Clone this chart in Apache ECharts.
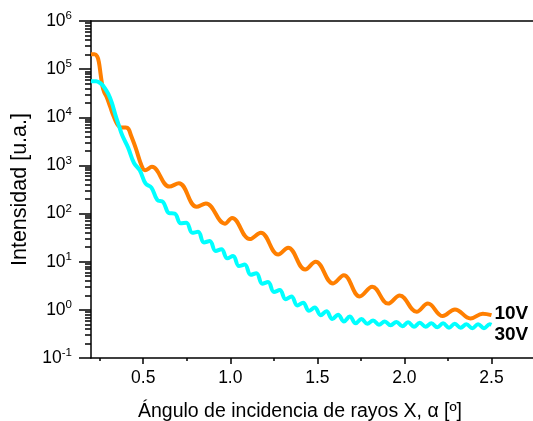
<!DOCTYPE html>
<html>
<head>
<meta charset="utf-8">
<script src="https://cdn.jsdelivr.net/npm/echarts@6/dist/echarts.min.js"></script>
<style>
  html, body { margin: 0; padding: 0; background: #fff; }
  #chart { width: 533px; height: 421px; }
</style>
</head>
<body>
<div id="chart"></div>
<script>
// angle (deg) and log10(intensity)
var angle10V = [0.20, 0.22, 0.235, 0.245, 0.255, 0.265, 0.275,
    0.29, 0.31, 0.33, 0.35, 0.365, 0.38, 0.40,
    0.415, 0.43, 0.457, 0.49, 0.51,
    0.55, 0.65, 0.705, 0.806, 0.86,
    0.969, 1.01, 1.112, 1.175, 1.275,
    1.332, 1.43, 1.49, 1.59, 1.652,
    1.743, 1.815, 1.906, 1.973, 2.07,
    2.135, 2.22, 2.29, 2.38, 2.45, 2.50];
var logI10V = [5.31, 5.31, 5.27, 5.15, 4.90, 4.66, 4.53,
    4.42, 4.22, 4.02, 3.86, 3.80, 3.79, 3.79,
    3.76, 3.62, 3.36, 3.00, 2.90,
    2.97, 2.56, 2.63, 2.14, 2.21,
    1.79, 1.91, 1.47, 1.60, 1.15,
    1.29, 0.84, 1.00, 0.55, 0.72,
    0.28, 0.48, 0.13, 0.30, -0.04,
    0.13, -0.13, 0.01, -0.18, -0.08, -0.11];

var angle30V = [0.20, 0.23, 0.26, 0.28, 0.30, 0.32, 0.34, 0.36, 0.38,
    0.413, 0.447, 0.480, 0.514, 0.547, 0.581, 0.614, 0.648, 0.681, 0.715,
    0.748, 0.782, 0.815, 0.849, 0.882, 0.916, 0.949, 0.983, 1.016, 1.050,
    1.083, 1.117, 1.150, 1.184, 1.217, 1.251, 1.284, 1.318, 1.351, 1.385,
    1.418, 1.452, 1.485, 1.519, 1.552, 1.586, 1.619, 1.653, 1.686, 1.720,
    1.753, 1.787, 1.820, 1.854, 1.887, 1.921, 1.954, 1.988, 2.021, 2.055,
    2.088, 2.122, 2.155, 2.189, 2.222, 2.256, 2.289, 2.323, 2.356, 2.390,
    2.423, 2.457, 2.490, 2.50];
var logI30V = [4.75, 4.75, 4.69, 4.60, 4.48, 4.30, 4.05, 3.83, 3.62,
    3.37, 3.05, 2.90, 2.62, 2.54, 2.28, 2.24, 2.01, 2.00, 1.80,
    1.81, 1.60, 1.62, 1.40, 1.43, 1.22, 1.26, 1.07, 1.12, 0.91,
    0.94, 0.73, 0.76, 0.54, 0.58, 0.37, 0.41, 0.22, 0.28, 0.09,
    0.15, -0.02, 0.05, -0.11, -0.03, -0.19, -0.10, -0.24, -0.14, -0.28,
    -0.19, -0.29, -0.22, -0.31, -0.24, -0.32, -0.25, -0.34, -0.26, -0.35,
    -0.27, -0.35, -0.28, -0.36, -0.28, -0.37, -0.29, -0.37, -0.30, -0.38,
    -0.30, -0.38, -0.30, -0.31];

var xTicks = [0.5, 1.0, 1.5, 2.0, 2.5];
var xMinorTicks = [0.25, 0.75, 1.25, 1.75, 2.25];
var yTicks = [0.1, 1, 10, 100, 1000, 10000, 100000, 1000000];

var yMinorTicks = [];
yTicks.slice(0, -1).forEach(function (d) {
    for (var m = 2; m <= 9; m++) yMinorTicks.push(m * d);
});

function toPoints(xs, logs) {
    return xs.map(function (x, i) { return [x, Math.pow(10, logs[i])]; });
}

var font = '"Liberation Sans", Arial, sans-serif';
var black = { color: '#000', width: 1.5 };

var myChart = echarts.init(document.getElementById('chart'));

var option = {
    animation: false,
    grid: { left: 91, right: -2, top: 21, bottom: 63, containLabel: false, outerBoundsMode: 'none' },
    xAxis: [{
        type: 'value', min: 0.2, max: 2.75, position: 'bottom',
        name: 'Ángulo de incidencia de rayos X, α [º]',
        nameLocation: 'middle', nameGap: 44,
        nameTextStyle: { fontFamily: font, fontSize: 19.5, color: '#000', padding: [0, 26, 0, 0] },
        axisLine: { lineStyle: black },
        axisTick: { customValues: xTicks, length: 6, lineStyle: black },
        axisLabel: {
            customValues: xTicks, margin: 11,
            fontFamily: font, fontSize: 17.5, color: '#000',
            formatter: function (v) { return v.toFixed(1); }
        },
        splitLine: { show: false }
    }, {
        type: 'value', min: 0.2, max: 2.75, position: 'bottom',
        axisLine: { show: false },
        axisTick: { customValues: xMinorTicks, length: 3, lineStyle: black },
        axisLabel: { show: false },
        splitLine: { show: false }
    }, {
        type: 'value', min: 0.2, max: 2.75, position: 'top',
        axisLine: { lineStyle: black },
        axisTick: { show: false },
        axisLabel: { show: false },
        splitLine: { show: false }
    }],
    yAxis: [{
        type: 'log', logBase: 10, min: 0.1, max: 1000000, position: 'left',
        name: 'Intensidad [u.a.]', nameLocation: 'middle', nameGap: 60,
        nameTextStyle: { fontFamily: font, fontSize: 21.5, color: '#000' },
        axisLine: { lineStyle: black },
        axisTick: { customValues: yTicks, length: 12, lineStyle: black },
        axisLabel: {
            customValues: yTicks, margin: 19,
            formatter: function (v) {
                return '{b|10}{s|' + Math.round(Math.log10(v)) + '}';
            },
            rich: {
                b: { fontFamily: font, fontSize: 17.5, color: '#000' },
                s: { fontFamily: font, fontSize: 11.5, color: '#000', padding: [0, 0, 10, 0] }
            }
        },
        splitLine: { show: false }
    }, {
        type: 'log', logBase: 10, min: 0.1, max: 1000000, position: 'left',
        axisLine: { show: false },
        axisTick: { customValues: yMinorTicks, length: 6, lineStyle: black },
        axisLabel: { show: false },
        splitLine: { show: false }
    }],
    series: [{
        name: '10V', type: 'line', xAxisIndex: 0, yAxisIndex: 0,
        data: toPoints(angle10V, logI10V),
        smooth: 0.4, showSymbol: false,
        lineStyle: { color: '#ff7f00', width: 4 },
        itemStyle: { color: '#ff7f00' },
        endLabel: {
            show: true, formatter: '10V', distance: 3, offset: [0, -1],
            fontFamily: font, fontSize: 19, fontWeight: 'bold', color: '#000'
        }
    }, {
        name: '30V', type: 'line', xAxisIndex: 0, yAxisIndex: 0,
        data: toPoints(angle30V, logI30V),
        smooth: 0.4, showSymbol: false,
        lineStyle: { color: '#00ffff', width: 4 },
        itemStyle: { color: '#00ffff' },
        endLabel: {
            show: true, formatter: '30V', distance: 3, offset: [0, 10],
            fontFamily: font, fontSize: 19, fontWeight: 'bold', color: '#000'
        }
    }]
};

myChart.setOption(option);
</script>
</body>
</html>
